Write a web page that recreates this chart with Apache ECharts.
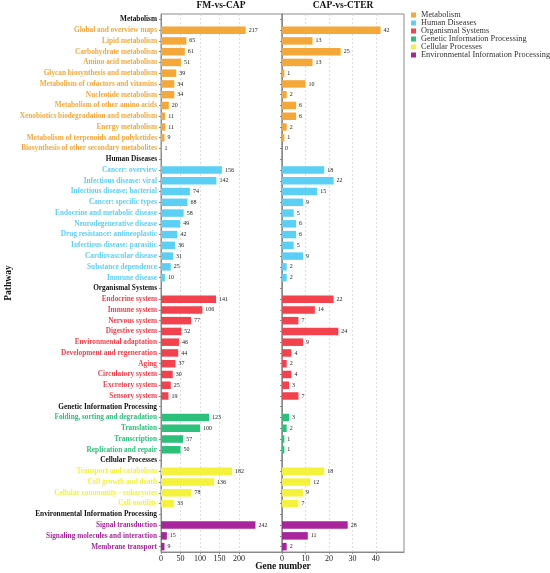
<!DOCTYPE html>
<html>
<head>
    <meta charset="utf-8">
    <title>KEGG pathway</title>
    <style type="text/css">
        * { margin: 0; padding: 0; }
        body { background: #fff; }
    </style>
</head>
<body>
    <div id="main" style="width: 550px; height: 573px;"></div>

    <script src="https://cdn.jsdelivr.net/npm/echarts@6/dist/echarts.min.js"></script>
    <script type="text/javascript">
        // 数据
        var groups = ['Metabolism', 'Human Diseases', 'Organismal Systems', 'Genetic Information Processing', 'Cellular Processes', 'Environmental Information Processing'];
        var groupColors = ['#F5A83A', '#5CD0F4', '#F2424E', '#2CC07A', '#F4F23C', '#A8259B'];

        var metabolismPaths = ['Global and overview maps', 'Lipid metabolism', 'Carbohydrate metabolism', 'Amino acid metabolism', 'Glycan biosynthesis and metabolism', 'Metabolism of cofactors and vitamins', 'Nucleotide metabolism', 'Metabolism of other amino acids', 'Xenobiotics biodegradation and metabolism', 'Energy metabolism', 'Metabolism of terpenoids and polyketides', 'Biosynthesis of other secondary metabolites'];
        var metabolismFM = [217, 65, 61, 51, 39, 34, 34, 20, 11, 11, 9, 1];
        var metabolismCTER = [42, 13, 25, 13, 1, 10, 2, 6, 6, 2, 1, 0];

        var diseasePaths = ['Cancer: overview', 'Infectious disease: viral', 'Infectious disease: bacterial', 'Cancer: specific types', 'Endocrine and metabolic disease', 'Neurodegenerative disease', 'Drug resistance: antineoplastic', 'Infectious disease: parasitic', 'Cardiovascular disease', 'Substance dependence', 'Immune disease'];
        var diseaseFM = [156, 142, 74, 68, 58, 49, 42, 36, 31, 25, 10];
        var diseaseCTER = [18, 22, 15, 9, 5, 6, 6, 5, 9, 2, 2];

        var organismalPaths = ['Endocrine system', 'Immune system', 'Nervous system', 'Digestive system', 'Environmental adaptation', 'Development and regeneration', 'Aging', 'Circulatory system', 'Excretory system', 'Sensory system'];
        var organismalFM = [141, 106, 77, 52, 46, 44, 37, 30, 25, 19];
        var organismalCTER = [22, 14, 7, 24, 9, 4, 2, 4, 3, 7];

        var geneticPaths = ['Folding, sorting and degradation', 'Translation', 'Transcription', 'Replication and repair'];
        var geneticFM = [123, 100, 57, 50];
        var geneticCTER = [3, 2, 1, 1];

        var cellularPaths = ['Transport and catabolism', 'Cell growth and death', 'Cellular community - eukaryotes', 'Cell motility'];
        var cellularFM = [182, 136, 78, 33];
        var cellularCTER = [18, 12, 9, 7];

        var envPaths = ['Signal transduction', 'Signaling molecules and interaction', 'Membrane transport'];
        var envFM = [242, 15, 9];
        var envCTER = [28, 11, 2];

        var leftTicks = [0, 50, 100, 150, 200];
        var rightTicks = [0, 10, 20, 30, 40];

        var groupPaths = [metabolismPaths, diseasePaths, organismalPaths, geneticPaths, cellularPaths, envPaths];
        var groupFM = [metabolismFM, diseaseFM, organismalFM, geneticFM, cellularFM, envFM];
        var groupCTER = [metabolismCTER, diseaseCTER, organismalCTER, geneticCTER, cellularCTER, envCTER];

        // 行: 每组一个标题行 + 通路
        var rows = [];
        var rowGroup = [];
        var rowIsHeader = [];
        groups.forEach(function (g, gi) {
            rows.push(g); rowGroup.push(gi); rowIsHeader.push(true);
            groupPaths[gi].forEach(function (p) {
                rows.push(p); rowGroup.push(gi); rowIsHeader.push(false);
            });
        });

        function seriesData(gi, values) {
            var out = [];
            var k = 0;
            rows.forEach(function (r, i) {
                if (rowGroup[i] === gi && !rowIsHeader[i]) {
                    out.push(values[k]);
                    k++;
                } else {
                    out.push('-');
                }
            });
            return out;
        }

        var font = 'Liberation Serif';
        var axisGray = '#8a8a8a';

        function gridLines(ticks) {
            return {
                silent: true,
                z: 1,
                symbol: 'none',
                label: { show: false },
                lineStyle: { color: '#d6d6d6', type: [2, 2], width: 0.8 },
                data: ticks.slice(1).map(function (t) { return { xAxis: t }; })
            };
        }

        var series = [];
        groups.forEach(function (g, gi) {
            [0, 1].forEach(function (panel) {
                var s = {
                    name: g,
                    type: 'bar',
                    xAxisIndex: panel,
                    yAxisIndex: panel,
                    stack: panel === 0 ? 'fm' : 'cter',
                    barWidth: 7.5,
                    z: 3,
                    itemStyle: { color: groupColors[gi] },
                    label: {
                        show: true,
                        position: 'right',
                        distance: 3,
                        fontSize: 6,
                        fontFamily: font,
                        color: '#222'
                    },
                    data: seriesData(gi, panel === 0 ? groupFM[gi] : groupCTER[gi])
                };
                if (gi === 0) {
                    s.markLine = gridLines(panel === 0 ? leftTicks : rightTicks);
                }
                series.push(s);
            });
        });

        function xAxisOpt(idx, max, interval, ticks) {
            return {
                type: 'value',
                gridIndex: idx,
                min: 0,
                max: max,
                interval: interval,
                splitLine: { show: false },
                axisLine: { show: true, lineStyle: { color: axisGray, width: 1 } },
                axisTick: { show: true, length: 2, customValues: ticks, lineStyle: { color: axisGray } },
                axisLabel: {
                    customValues: ticks,
                    margin: 3,
                    fontSize: 8,
                    fontFamily: font,
                    color: '#222',
                    formatter: function (v) { return ticks.indexOf(v) >= 0 ? v : ''; }
                }
            };
        }

        function yAxisOpt(idx, showLabel) {
            var o = {
                type: 'category',
                gridIndex: idx,
                inverse: true,
                data: rows,
                axisLine: { show: true, lineStyle: { color: axisGray, width: 1 } },
                axisTick: { show: true, alignWithLabel: true, length: 2, lineStyle: { color: axisGray } },
                axisLabel: {
                    show: showLabel,
                    interval: 0,
                    margin: 4,
                    fontSize: 7.3,
                    fontWeight: 'bold',
                    fontFamily: font,
                    color: function (value, index) {
                        var i = rows.indexOf(value);
                        return rowIsHeader[i] ? '#111' : groupColors[rowGroup[i]];
                    }
                }
            };
            if (showLabel) {
                o.name = 'Pathway';
                o.nameLocation = 'middle';
                o.nameRotate = 90;
                o.nameGap = 147;
                o.nameTextStyle = { fontSize: 9.5, fontWeight: 'bold', fontFamily: font, color: '#111' };
            }
            return o;
        }

        var myChart = echarts.init(document.getElementById('main'));

        var option = {
            animation: false,
            textStyle: { fontFamily: font },
            legend: {
                data: groups,
                orient: 'vertical',
                left: 411,
                top: 11,
                padding: 0,
                itemGap: 0,
                itemWidth: 5,
                itemHeight: 5,
                icon: 'rect',
                selectedMode: false,
                textStyle: { fontSize: 8.3, lineHeight: 7.8, fontFamily: font, color: '#333' }
            },
            grid: [
                { left: 161, top: 14, width: 121, height: 538, show: true, borderColor: axisGray, borderWidth: 1, containLabel: false, outerBoundsMode: 'none' },
                { left: 282, top: 14, width: 122, height: 538, show: true, borderColor: axisGray, borderWidth: 1, containLabel: false, outerBoundsMode: 'none' }
            ],
            xAxis: [
                xAxisOpt(0, 310, 50, leftTicks),
                xAxisOpt(1, 52, 10, rightTicks)
            ],
            yAxis: [
                yAxisOpt(0, true),
                yAxisOpt(1, false)
            ],
            graphic: [
                { type: 'text', x: 221, y: 6, style: { text: 'FM-vs-CAP', fontSize: 9.5, fontWeight: 'bold', fontFamily: font, fill: '#111', align: 'center', verticalAlign: 'middle' } },
                { type: 'text', x: 343, y: 6, style: { text: 'CAP-vs-CTER', fontSize: 9.5, fontWeight: 'bold', fontFamily: font, fill: '#111', align: 'center', verticalAlign: 'middle' } },
                { type: 'text', x: 283, y: 567, style: { text: 'Gene number', fontSize: 9.5, fontWeight: 'bold', fontFamily: font, fill: '#111', align: 'center', verticalAlign: 'middle' } }
            ],
            series: series
        };

        myChart.setOption(option, true);
    </script>
</body>
</html>
